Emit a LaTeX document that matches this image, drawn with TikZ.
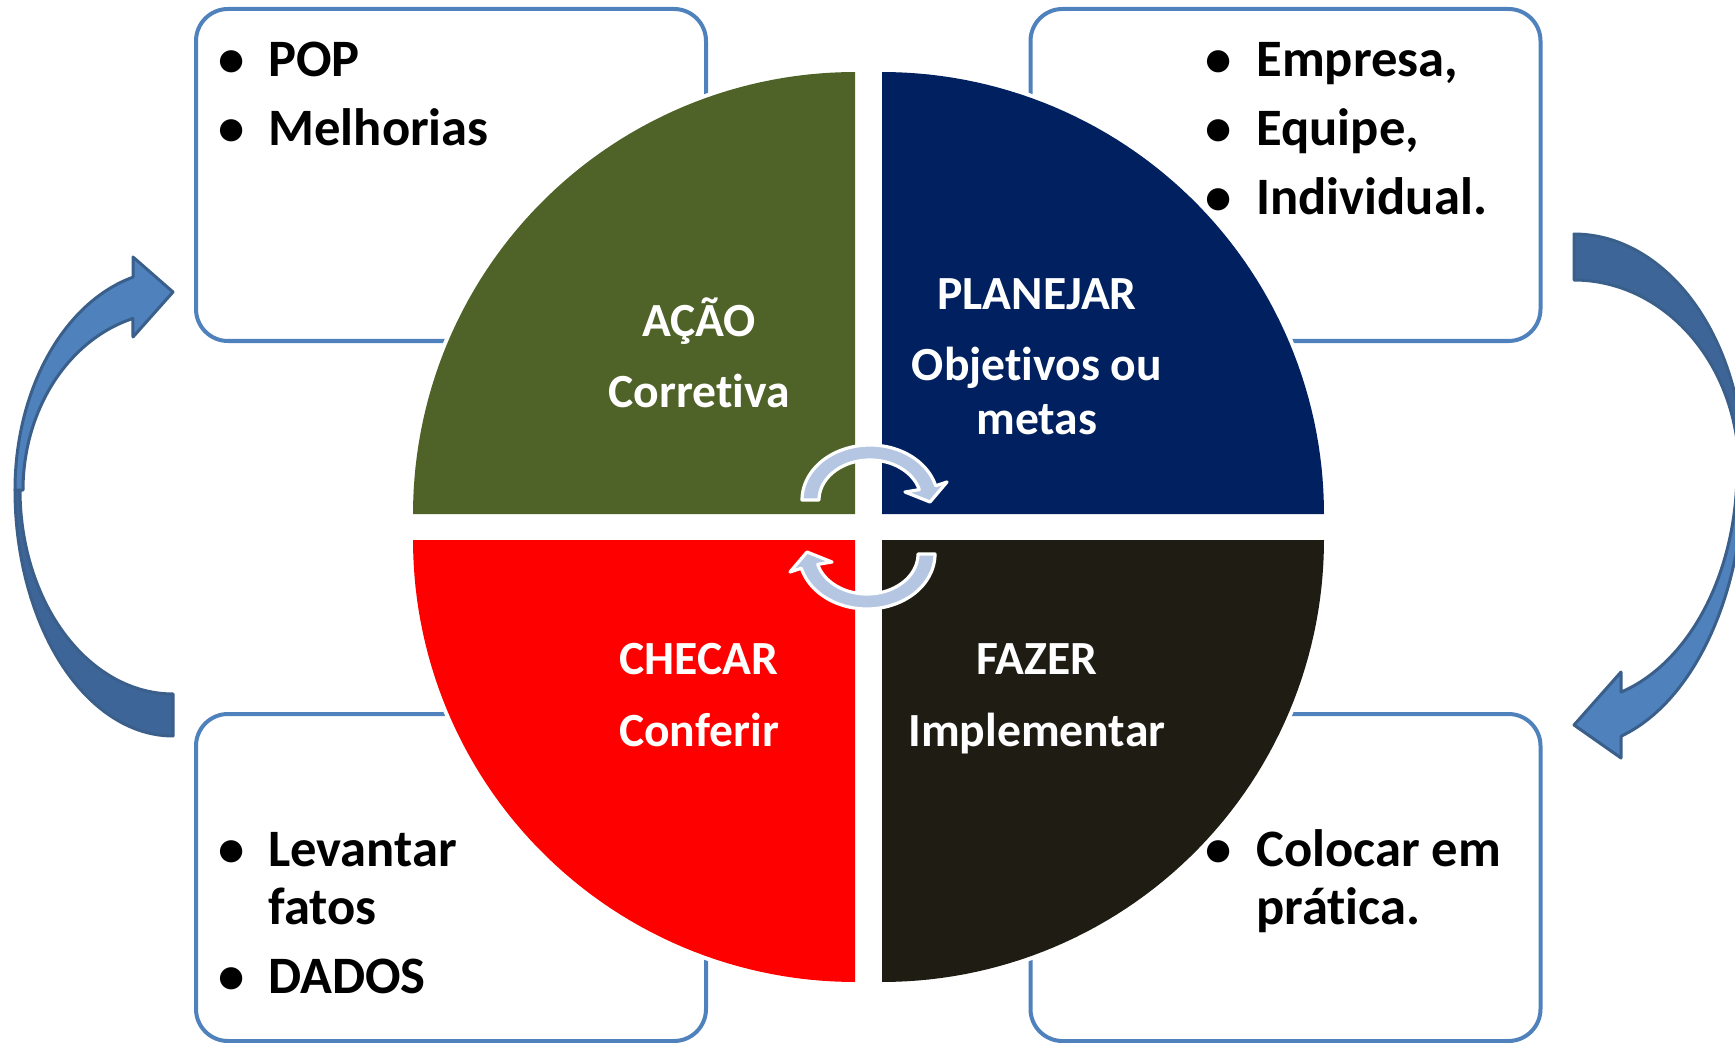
\documentclass[tikz,border=0pt]{standalone}
\usepackage{fontspec}
\setmainfont{Carlito}[Ligatures={NoCommon}]
\definecolor{boxblue}{HTML}{4F81BD}
\definecolor{qgreen}{HTML}{4F6228}
\definecolor{qblue}{HTML}{002060}
\definecolor{qred}{HTML}{FF0000}
\definecolor{qblack}{HTML}{1F1D13}
\definecolor{arrlight}{HTML}{4F81BD}
\definecolor{arrdark}{HTML}{3E6597}
\definecolor{arrline}{HTML}{3A5F8B}
\definecolor{cycfill}{HTML}{B4C6E2}
\tikzset{
  infobox/.style={draw=boxblue, line width=2pt, rounded corners=16pt, fill=white,
    minimum width=255pt, inner sep=0pt, outer sep=0pt},
  boxtxt/.style={font=\fontsize{26.3}{30}\selectfont\bfseries, anchor=base west, inner sep=0pt},
  bul/.style={font=\fontsize{26.3}{30}\selectfont\bfseries, anchor=base, inner sep=0pt},
  qtxt/.style={font=\fontsize{23.8}{28}\selectfont\bfseries, text=white, anchor=base, inner sep=0pt},
  qhalo/.style={draw=white, line width=4pt},
  bigarrow/.style={draw=arrline, line width=1.5pt, line join=round},
  cycarrow/.style={fill=cycfill, draw=white, line width=1.6pt, line join=round}
}
\begin{document}
\begin{tikzpicture}[x=0.5pt,y=-0.5pt]
\useasboundingbox (0,0) rectangle (1735,1043);
\fill[white] (0,0) rectangle (1735,1043);

% boxes
\node[infobox, minimum height=166pt] (boxTL) at (451,175) {};
\node[infobox, minimum height=166pt] (boxTR) at (1285.5,175) {};
\node[infobox, minimum height=163.5pt] (boxBL) at (451,877.5) {};
\node[infobox, minimum height=163.5pt] (boxBR) at (1285.5,877.5) {};

% box texts
\node[bul] (b1) at (232,77) {•};
\node[boxtxt] (t1) at (268,77) {POP};
\node[bul] (b2) at (232,146) {•};
\node[boxtxt] (t2) at (268,146) {Melhorias};

\node[bul] (b3) at (1219,77) {•};
\node[boxtxt] (t3) at (1256,77) {Empresa,};
\node[bul] (b4) at (1219,146) {•};
\node[boxtxt] (t4) at (1256,146) {Equipe,};
\node[bul] (b5) at (1219,215) {•};
\node[boxtxt] (t5) at (1256,215) {Individual.};

\node[bul] (b6) at (232,866) {•};
\node[boxtxt] (t6) at (268,866) {Levantar};
\node[boxtxt] (t7) at (268,924) {fatos};
\node[bul] (b7) at (232,993) {•};
\node[boxtxt] (t8) at (268,993) {DADOS};

\node[bul] (b8) at (1219,866) {•};
\node[boxtxt] (t9) at (1256,866) {Colocar em};
\node[boxtxt] (t10) at (1256,924) {prática.};

% quadrant halos
\draw[qhalo] (855,514) -- plot[domain=180:270, samples=60] ({855+442*cos(\x)}, {514+442*sin(\x)}) -- cycle;
\draw[qhalo] (882,514) -- plot[domain=270:360, samples=60] ({882+442*cos(\x)}, {514+442*sin(\x)}) -- cycle;
\draw[qhalo] (855,540) -- plot[domain=90:180, samples=60] ({855+442*cos(\x)}, {540+442*sin(\x)}) -- cycle;
\draw[qhalo] (882,540) -- plot[domain=0:90, samples=60] ({882+442*cos(\x)}, {540+442*sin(\x)}) -- cycle;
% quadrants
\fill[qgreen] (855,514) -- plot[domain=180:270, samples=60] ({855+442*cos(\x)}, {514+442*sin(\x)}) -- cycle;
\fill[qblue] (882,514) -- plot[domain=270:360, samples=60] ({882+442*cos(\x)}, {514+442*sin(\x)}) -- cycle;
\fill[qred] (855,540) -- plot[domain=90:180, samples=60] ({855+442*cos(\x)}, {540+442*sin(\x)}) -- cycle;
\fill[qblack] (882,540) -- plot[domain=0:90, samples=60] ({882+442*cos(\x)}, {540+442*sin(\x)}) -- cycle;

% quadrant texts
\node[qtxt] (acao) at (699,336) {AÇÃO};
\node[qtxt] (corr) at (699,408) {Corretiva};
\node[qtxt] (plan) at (1037,310) {PLANEJAR};
\node[qtxt] (obj) at (1037,380) {Objetivos ou};
\node[qtxt] (met) at (1037,434) {metas};
\node[qtxt] (chec) at (699,674) {CHECAR};
\node[qtxt] (conf) at (699,746) {Conferir};
\node[qtxt] (faz) at (1037,674) {FAZER};
\node[qtxt] (impl) at (1037,746) {Implementar};

% central cycle arrows
\path[cycarrow]
  plot[domain=180:345, samples=50] ({870+68*cos(\x)}, {500+55*sin(\x)})
  -- (947,482) -- (930,502) -- (905,492)
  -- plot[domain=345:180, samples=50] ({870+51*cos(\x)}, {500+40*sin(\x)}) -- cycle;
\path[cycarrow, rotate around={180:(868.5,527)}]
  plot[domain=180:345, samples=50] ({870+68*cos(\x)}, {500+55*sin(\x)})
  -- (947,482) -- (930,502) -- (905,492)
  -- plot[domain=345:180, samples=50] ({870+51*cos(\x)}, {500+40*sin(\x)}) -- cycle;

% left curved arrow
\path[bigarrow, fill=arrdark]
  plot[domain=90:180, samples=50] ({173+158*cos(\x)}, {490+246*sin(\x)})
  -- plot[domain=180:90, samples=50] ({173+153*cos(\x)}, {490+204*sin(\x)}) -- cycle;
\path[bigarrow, fill=arrlight]
  plot[domain=180:104.66, samples=50] ({173+158*cos(\x)}, {490-220*sin(\x)})
  -- (133,257) -- (173,292) -- (133,337)
  -- plot[domain=105.5:180, samples=50] ({173+150*cos(\x)}, {490-178*sin(\x)}) -- cycle;

% right curved arrow
\path[bigarrow, fill=arrdark]
  plot[domain=-90:0, samples=50] ({1574+170*cos(\x)}, {470+236*sin(\x)})
  -- plot[domain=0:-90, samples=50] ({1574+165*cos(\x)}, {470+190*sin(\x)}) -- cycle;
\path[bigarrow, fill=arrlight]
  plot[domain=0:73.95, samples=50] ({1574+170*cos(\x)}, {470+277*sin(\x)})
  -- (1621,758) -- (1574,725) -- (1621,672)
  -- plot[domain=73.24:0, samples=50] ({1574+163*cos(\x)}, {470+232*sin(\x)}) -- cycle;
\end{tikzpicture}
\end{document}
